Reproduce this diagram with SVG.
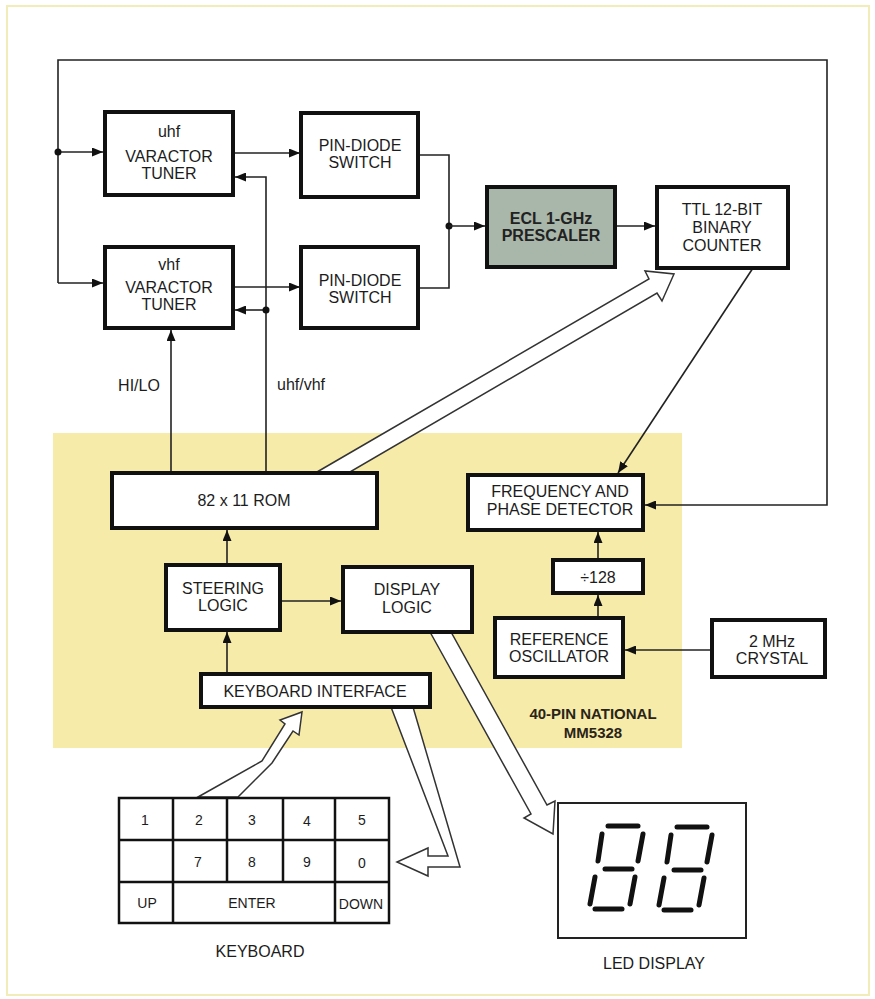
<svg xmlns="http://www.w3.org/2000/svg" xmlns:xlink="http://www.w3.org/1999/xlink" width="875" height="999" viewBox="0 0 875 999">
<style>
text{font-family:"Liberation Sans",Arial,sans-serif;fill:#1c1c1c;text-anchor:middle}
.t{font-size:16px}
.k{font-size:14px}
.b{font-size:15px;font-weight:bold;fill:#2a2418}
.box{fill:#fff;stroke:#111;stroke-width:4}
.ln{fill:none;stroke:#222;stroke-width:1.6}
.ar{fill:none;stroke:#222;stroke-width:1.6;marker-end:url(#ah)}
.wide{fill:#fff;stroke:#333;stroke-width:1.5;stroke-linejoin:miter}
.grid{fill:#fff;stroke:#111;stroke-width:2.5}
.seg{stroke:#111;stroke-width:5;stroke-linecap:round}
</style>
<defs>
<marker id="ah" markerUnits="userSpaceOnUse" markerWidth="11" markerHeight="9" refX="11" refY="4.5" orient="auto">
<path d="M0,0 L11,4.5 L0,9 z" fill="#111"/>
</marker>
<g id="digit">
<line class="seg" x1="608" y1="826" x2="638" y2="826"/>
<line class="seg" x1="602" y1="834" x2="598" y2="861"/>
<line class="seg" x1="643" y1="834" x2="638" y2="861"/>
<line class="seg" x1="605" y1="869" x2="632" y2="869"/>
<line class="seg" x1="595" y1="877" x2="590" y2="904"/>
<line class="seg" x1="635" y1="877" x2="630" y2="904"/>
<line class="seg" x1="595" y1="909" x2="622" y2="909"/>
</g>
</defs>
<rect width="875" height="999" fill="#fff"/>
<rect x="7" y="6" width="862" height="989" fill="none" stroke="#f2edb8" stroke-width="2"/>
<rect id="chip-area" x="53" y="433" width="629" height="315" fill="#f7eba9"/>

<g id="connectors">
<path class="ar" d="M58,283 V60 H827 V505 H645"/>
<path class="ar" d="M58,152 H103"/>
<path class="ar" d="M58,283 H103"/>
<circle cx="58" cy="152" r="3.5" fill="#111"/>
<path class="ar" d="M233,153 H300"/>
<path class="ar" d="M233,287 H300"/>
<path class="ln" d="M420,155 H449 V288 H420"/>
<circle cx="449" cy="226" r="3.5" fill="#111"/>
<path class="ar" d="M449,226 H485"/>
<path class="ar" d="M615,226 H655"/>
<path class="ar" d="M753,268 L618,473"/>
<path class="ar" d="M171,472 V330"/>
<path class="ar" d="M266,472 V177 H235"/>
<path class="ar" d="M266,310 H235"/>
<circle cx="266" cy="310" r="3.5" fill="#111"/>
<path class="ar" d="M227,565 V530"/>
<path class="ar" d="M227,674 V632"/>
<path class="ar" d="M280,601 H341"/>
<path class="ar" d="M598,560 V532"/>
<path class="ar" d="M598,618 V595"/>
<path class="ar" d="M712,650 H625"/>
<polygon class="wide" points="317,472 649,279 645,271 674,274 662,301 657,293 350,472"/>
<polygon class="wide" points="430,632 531,814 524,818 553,834 555,801 547,805 451,632"/>
<polygon class="wide" points="391,707 448,856 428,856 428,848 397,862 428,876 428,867 460,867 413,707"/>
<polygon class="wide" points="198,797 262,761 285,724 280,720 302,712 299,735 293,731 272,763 238,797"/>
</g>

<g id="uhf-tuner">
<rect class="box" x="105" y="112" width="128" height="83"/>
<text class="t" x="169" y="137">uhf</text>
<text class="t" x="169" y="162">VARACTOR</text>
<text class="t" x="169" y="179">TUNER</text>
</g>
<g id="vhf-tuner">
<rect class="box" x="105" y="247" width="128" height="81"/>
<text class="t" x="169" y="270">vhf</text>
<text class="t" x="169" y="293">VARACTOR</text>
<text class="t" x="169" y="310">TUNER</text>
</g>
<g id="pin-switch-1">
<rect class="box" x="301" y="113" width="117" height="84"/>
<text class="t" x="360" y="151">PIN-DIODE</text>
<text class="t" x="360" y="168">SWITCH</text>
</g>
<g id="pin-switch-2">
<rect class="box" x="301" y="247" width="117" height="81"/>
<text class="t" x="360" y="286">PIN-DIODE</text>
<text class="t" x="360" y="303">SWITCH</text>
</g>
<g id="prescaler">
<rect class="box" x="487" y="187" width="128" height="80" style="fill:#a9b6aa"/>
<text class="t" x="551" y="224" style="font-weight:bold;fill:#222">ECL 1-GHz</text>
<text class="t" x="551" y="241" style="font-weight:bold;fill:#222">PRESCALER</text>
</g>
<g id="counter">
<rect class="box" x="657" y="187" width="131" height="81"/>
<text class="t" x="722" y="215">TTL 12-BIT</text>
<text class="t" x="722" y="233">BINARY</text>
<text class="t" x="722" y="251">COUNTER</text>
</g>
<g id="labels">
<text class="t" x="139" y="391">HI/LO</text>
<text class="t" x="301" y="390">uhf/vhf</text>
<text class="b" x="593" y="719">40-PIN NATIONAL</text>
<text class="b" x="593" y="738">MM5328</text>
</g>
<g id="rom">
<rect class="box" x="112" y="473" width="265" height="55"/>
<text class="t" x="244" y="506">82 x 11 ROM</text>
</g>
<g id="steering-logic">
<rect class="box" x="166" y="565" width="114" height="65"/>
<text class="t" x="223" y="594">STEERING</text>
<text class="t" x="223" y="611">LOGIC</text>
</g>
<g id="display-logic">
<rect class="box" x="343" y="567" width="129" height="65"/>
<text class="t" x="407" y="595">DISPLAY</text>
<text class="t" x="407" y="613">LOGIC</text>
</g>
<g id="keyboard-interface">
<rect class="box" x="201" y="674" width="229" height="33"/>
<text class="t" x="315" y="697">KEYBOARD INTERFACE</text>
</g>
<g id="freq-phase-detector">
<rect class="box" x="468" y="475" width="175" height="55"/>
<text class="t" x="560" y="497">FREQUENCY AND</text>
<text class="t" x="560" y="515">PHASE DETECTOR</text>
</g>
<g id="divider">
<rect class="box" x="553" y="560" width="90" height="33"/>
<text class="t" x="598" y="583">÷128</text>
</g>
<g id="ref-oscillator">
<rect class="box" x="495" y="618" width="128" height="59"/>
<text class="t" x="559" y="645">REFERENCE</text>
<text class="t" x="559" y="662">OSCILLATOR</text>
</g>
<g id="crystal">
<rect class="box" x="712" y="620" width="113" height="57"/>
<text class="t" x="772" y="647">2 MHz</text>
<text class="t" x="772" y="664">CRYSTAL</text>
</g>
<g id="keyboard">
<rect class="grid" x="119" y="798" width="270" height="125"/>
<path d="M119,840 H389 M119,882 H389 M173,798 V923 M227,798 V882 M283,798 V882 M335,798 V923" stroke="#111" stroke-width="2.5" fill="none"/>
<text class="k" x="145" y="825">1</text>
<text class="k" x="199" y="825">2</text>
<text class="k" x="252" y="825">3</text>
<text class="k" x="307" y="826">4</text>
<text class="k" x="362" y="825">5</text>
<text class="k" x="198" y="867">7</text>
<text class="k" x="252" y="867">8</text>
<text class="k" x="307" y="867">9</text>
<text class="k" x="362" y="868">0</text>
<text class="k" x="147" y="908">UP</text>
<text class="k" x="252" y="908">ENTER</text>
<text class="k" x="361" y="909">DOWN</text>
<text class="t" x="260" y="957">KEYBOARD</text>
</g>
<g id="led-display">
<rect x="558" y="803" width="188" height="135" fill="#fff" stroke="#222" stroke-width="2"/>
<use xlink:href="#digit"/>
<use xlink:href="#digit" transform="translate(69,1)"/>
<text class="t" x="654" y="969">LED DISPLAY</text>
</g>
</svg>
